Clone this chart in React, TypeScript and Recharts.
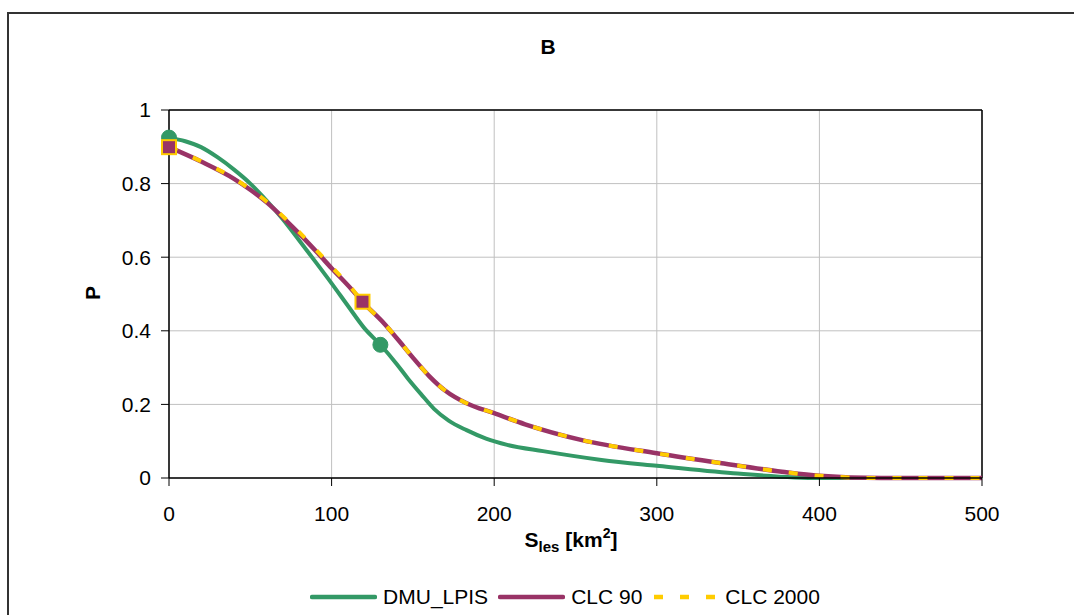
import React from 'react';
import { LineChart, Line, XAxis, YAxis, CartesianGrid, Legend, ReferenceLine } from 'recharts';

const FONT = '"Liberation Sans", Arial, sans-serif';

const title = 'B';
const xTicks = [0, 100, 200, 300, 400, 500];
const yTicks = [0, 0.2, 0.4, 0.6, 0.8, 1];

const dmuX = [0, 10, 19.7, 30, 40, 50, 60, 70, 80, 90, 100, 110, 120, 130, 140, 147, 155, 163, 172, 183, 195, 208, 230, 266, 300, 347, 400, 450, 500];
const dmuP = [0.925, 0.915, 0.899, 0.871, 0.838, 0.8, 0.754, 0.703, 0.646, 0.588, 0.529, 0.468, 0.408, 0.362, 0.31, 0.27, 0.228, 0.188, 0.156, 0.13, 0.107, 0.09, 0.073, 0.049, 0.033, 0.013, 0.0, 0.0, 0.0];
const dmuMarks = [0, 130];

const clc90X = [0, 19.7, 40, 50.4, 60.6, 70.8, 81, 91.3, 100, 111.8, 119, 132.3, 144.4, 150, 160, 170, 183, 200, 219, 254, 300, 340, 377, 400, 438, 470, 500];
const clc90P = [0.899, 0.86, 0.813, 0.782, 0.747, 0.705, 0.66, 0.612, 0.57, 0.515, 0.479, 0.42, 0.357, 0.327, 0.277, 0.237, 0.203, 0.176, 0.146, 0.103, 0.067, 0.04, 0.017, 0.006, 0.0, 0.0, 0.0];

const clc2000X = [0, 19.7, 40, 50.4, 60.6, 70.8, 81, 91.3, 100, 111.8, 119, 132.3, 144.4, 150, 160, 170, 183, 200, 219, 254, 300, 340, 377, 400, 438, 470, 500];
const clc2000P = [0.899, 0.861, 0.814, 0.783, 0.749, 0.708, 0.664, 0.616, 0.574, 0.518, 0.479, 0.42, 0.357, 0.327, 0.277, 0.237, 0.203, 0.176, 0.146, 0.103, 0.067, 0.04, 0.017, 0.006, 0.0, 0.0, 0.0];
const clcMarks = [0, 119];

const GREEN = '#339966';
const PURPLE = '#993366';
const YELLOW = '#FFCC00';

const build = (xs: number[], ps: number[], marks: number[]) =>
  xs.map((x, i) => ({ x, p: ps[i], mark: marks.includes(x) }));

const dmuData = build(dmuX, dmuP, dmuMarks);
const clc90Data = build(clc90X, clc90P, []);
const clc2000Data = build(clc2000X, clc2000P, clcMarks);

const CircleDot = (props: any) => {
  const { cx, cy, payload, index } = props;
  if (!payload || !payload.mark) return <g key={`c${index}`} />;
  return <circle key={`c${index}`} cx={cx} cy={cy} r={7.5} fill={GREEN} stroke={GREEN} strokeWidth={1} />;
};

const SquareDot = (props: any) => {
  const { cx, cy, payload, index } = props;
  if (!payload || !payload.mark) return <g key={`s${index}`} />;
  return <rect key={`s${index}`} x={cx - 7} y={cy - 7} width={14} height={14} fill={PURPLE} stroke={YELLOW} strokeWidth={2} />;
};

const legendItems = [
  { name: 'DMU_LPIS', color: GREEN, dash: '' },
  { name: 'CLC 90', color: PURPLE, dash: '' },
  { name: 'CLC 2000', color: YELLOW, dash: '9 17' },
];

const LegendContent = () => (
  <div style={{ display: 'flex', justifyContent: 'center', alignItems: 'center', height: 30, fontFamily: FONT, fontSize: 21, color: '#000' }}>
    {legendItems.map((it) => (
      <div key={it.name} style={{ display: 'flex', alignItems: 'center', marginRight: 10 }}>
        <svg width={67} height={10} style={{ marginRight: 6 }}>
          <line x1={2} y1={5} x2={65} y2={5} stroke={it.color} strokeWidth={4.5} strokeLinecap={it.dash ? 'butt' : 'round'} strokeDasharray={it.dash || undefined} />
        </svg>
        <span>{it.name}</span>
      </div>
    ))}
  </div>
);

const XTitle = (props: any) => {
  const vb = props.viewBox || {};
  const cx = 571;
  const y = vb.y + 69;
  return (
    <text x={cx} y={y} textAnchor="middle" fontFamily={FONT} fontWeight="bold" fill="#000">
      <tspan fontSize={21}>S</tspan>
      <tspan fontSize={15} dy={5}>les</tspan>
      <tspan fontSize={21} dy={-5}> [km</tspan>
      <tspan fontSize={14} dy={-9}>2</tspan>
      <tspan fontSize={21} dy={9}>]</tspan>
    </text>
  );
};

const YTitle = () => {
  const x = 92;
  const y = 293;
  return (
    <text x={x} y={y} textAnchor="middle" dominantBaseline="central" fontFamily={FONT} fontWeight="bold" fontSize={21} fill="#000" transform={`rotate(-90, ${x}, ${y})`}>
      P
    </text>
  );
};

export default function App() {
  return (
    <div style={{ position: 'absolute', left: 0, top: 0, width: 1074, height: 615, overflow: 'hidden', background: '#fff' }}>
      <div style={{ position: 'absolute', left: 7, top: 12, width: 1200, height: 800, border: '2px solid #333', boxSizing: 'border-box' }} />
      <div style={{ position: 'absolute', left: 0, width: 1096, top: 34, textAlign: 'center', fontFamily: FONT, fontWeight: 'bold', fontSize: 21, lineHeight: '26px', color: '#000' }}>
        {title}
      </div>
      <div style={{ position: 'absolute', left: 0, top: 0 }}>
        <LineChart width={1074} height={615} margin={{ top: 110, right: 92, left: 89, bottom: 3 }}>
          <CartesianGrid stroke="#c0c0c0" strokeWidth={1} horizontal vertical />
          <XAxis
            dataKey="x"
            type="number"
            domain={[0, 500]}
            ticks={xTicks}
            allowDuplicatedCategory={false}
            height={104}
            tickSize={8}
            tickMargin={20}
            stroke="#000"
            tick={{ fill: '#000', fontSize: 21, fontFamily: FONT }}
            tickLine={{ stroke: '#000' }}
            axisLine={{ stroke: '#000', strokeWidth: 1.5 }}
            label={<XTitle />}
          />
          <YAxis
            type="number"
            domain={[0, 1]}
            ticks={yTicks}
            width={80}
            tickSize={8}
            tickMargin={10}
            stroke="#000"
            tick={{ fill: '#000', fontSize: 21, fontFamily: FONT }}
            tickLine={{ stroke: '#000' }}
            axisLine={{ stroke: '#000', strokeWidth: 1.5 }}
            tickFormatter={(v: number) => String(v)}
            label={<YTitle />}
          />
          <ReferenceLine y={1} stroke="#000" strokeWidth={1.5} />
          <ReferenceLine x={500} stroke="#000" strokeWidth={1.5} />
          <Legend
            verticalAlign="bottom"
            content={<LegendContent />}
            wrapperStyle={{ left: 0, width: 1140 }}
          />
          <Line data={dmuData} dataKey="p" name="DMU_LPIS" type="monotone" stroke={GREEN} strokeWidth={4} dot={<CircleDot />} activeDot={false} isAnimationActive={false} />
          <Line data={clc90Data} dataKey="p" name="CLC 90" type="monotone" stroke={PURPLE} strokeWidth={4.5} dot={false} activeDot={false} isAnimationActive={false} />
          <Line data={clc2000Data} dataKey="p" name="CLC 2000" type="monotone" stroke={YELLOW} strokeWidth={4} strokeDasharray="9 17" dot={<SquareDot />} activeDot={false} isAnimationActive={false} />
        </LineChart>
      </div>
    </div>
  );
}
